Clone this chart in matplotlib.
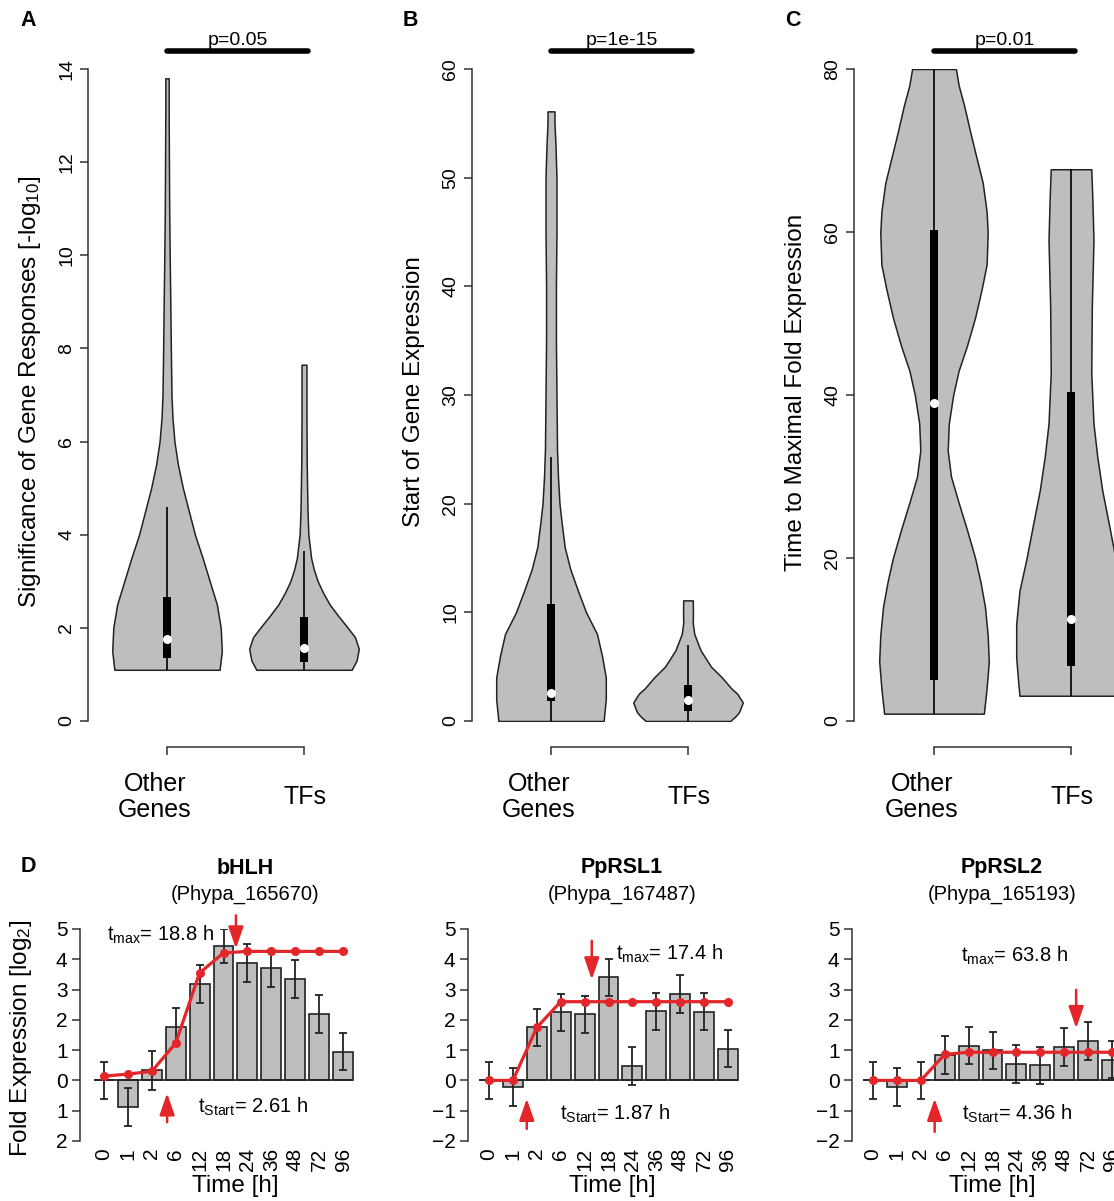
import numpy as np
import matplotlib
matplotlib.use("Agg")
import matplotlib.pyplot as plt
from matplotlib.patches import Rectangle

plt.rcParams['font.family'] = ['Liberation Sans', 'DejaVu Sans']
plt.rcParams['mathtext.fontset'] = 'custom'
plt.rcParams['mathtext.rm'] = 'Liberation Sans'
plt.rcParams['mathtext.it'] = 'Liberation Sans:italic'
plt.rcParams['mathtext.bf'] = 'Liberation Sans:bold'

# ---------------- data: violins (top row) ----------------
groups = ["Other\nGenes", "TFs"]

# A: significance of gene responses
A_other_y = [1.1, 1.5, 2.0, 2.5, 3.0, 3.5, 4.0, 4.5, 5.0, 5.5, 6.0, 6.5, 7.0, 8.0, 9.0, 10.0, 11.0, 12.0, 13.0, 13.8]
A_other_d = [0.96, 1.0, 0.98, 0.91, 0.78, 0.65, 0.51, 0.40, 0.29, 0.20, 0.136, 0.10, 0.082, 0.07, 0.06, 0.049, 0.04, 0.035, 0.031, 0.031]
A_tfs_y = [1.1, 1.3, 1.55, 1.8, 2.0, 2.25, 2.5, 2.75, 3.0, 3.25, 3.5, 4.0, 4.5, 5.5, 6.5, 7.65]
A_tfs_d = [0.87, 0.96, 1.0, 0.93, 0.80, 0.63, 0.47, 0.35, 0.25, 0.18, 0.13, 0.08, 0.064, 0.05, 0.045, 0.045]
# box stats: q1, median, q3, whisker low, whisker high
A_other_box = [1.36, 1.76, 2.66, 1.1, 4.6]
A_tfs_box = [1.27, 1.56, 2.24, 1.1, 3.66]

# B: start of gene expression
B_other_y = [0, 2, 4, 6, 8, 10, 12, 14, 16, 18, 20, 22.5, 25, 30, 35, 40, 45, 50, 53, 55, 56.1]
B_other_d = [0.96, 1.0, 1.0, 0.93, 0.84, 0.64, 0.49, 0.35, 0.25, 0.2, 0.155, 0.127, 0.11, 0.1, 0.09, 0.09, 0.1, 0.1, 0.082, 0.064, 0.064]
B_tfs_y = [0, 0.4, 0.8, 1.7, 2.5, 3.0, 4.0, 5.0, 6.5, 8.0, 9.0, 10.0, 11.1]
B_tfs_d = [0.77, 0.86, 0.93, 1.0, 0.90, 0.79, 0.62, 0.42, 0.23, 0.115, 0.087, 0.09, 0.087]
B_other_box = [1.8, 2.6, 10.8, 0.0, 24.3]
B_tfs_box = [0.9, 1.9, 3.3, 0.0, 7.0]

# C: time to maximal fold expression
C_other_y = [0.9, 4, 7.3, 10.5, 14, 17, 20, 23.5, 27, 30, 33.2, 36.5, 40, 43, 46, 49.5, 53, 56, 59.9, 62.5, 66, 69, 72, 75.5, 78, 80]
C_other_d = [0.91, 0.96, 1.0, 0.98, 0.93, 0.85, 0.75, 0.6, 0.44, 0.31, 0.25, 0.27, 0.35, 0.45, 0.6, 0.75, 0.87, 0.96, 0.98, 0.96, 0.89, 0.78, 0.67, 0.55, 0.45, 0.4]
C_tfs_y = [3.1, 4.5, 7.8, 11.9, 16, 20, 24.2, 28.3, 32.4, 36.5, 42.7, 50.8, 59, 64, 67.7]
C_tfs_d = [0.94, 0.96, 1.0, 1.0, 0.94, 0.81, 0.69, 0.57, 0.48, 0.41, 0.37, 0.38, 0.41, 0.39, 0.37]
C_other_box = [5.0, 39.0, 60.3, 0.9, 80.0]
C_tfs_box = [6.8, 12.5, 40.4, 3.1, 67.7]

pvalues = ["p=0.05", "p=1e-15", "p=0.01"]
ylabels_top = ["Significance of Gene Responses [-log$_{10}$]", "Start of Gene Expression",
               "Time to Maximal Fold Expression"]
yticks_top = [[0, 2, 4, 6, 8, 10, 12, 14], [0, 10, 20, 30, 40, 50, 60], [0, 20, 40, 60, 80]]

# ---------------- data: bar charts (bottom row) ----------------
times = ["0", "1", "2", "6", "12", "18", "24", "36", "48", "72", "96"]

bhlh_mean = [0.0, -0.88, 0.33, 1.78, 3.18, 4.45, 3.88, 3.70, 3.35, 2.20, 0.95]
bhlh_err = [0.62, 0.63, 0.63, 0.62, 0.62, 0.56, 0.62, 0.62, 0.62, 0.62, 0.62]
bhlh_fit = [0.14, 0.21, 0.30, 1.23, 3.55, 4.21, 4.26, 4.26, 4.26, 4.26, 4.26]

rsl1_mean = [0.0, -0.22, 1.75, 2.25, 2.18, 3.40, 0.47, 2.28, 2.85, 2.27, 1.05]
rsl1_err = [0.62, 0.63, 0.62, 0.62, 0.62, 0.62, 0.63, 0.62, 0.62, 0.62, 0.62]
rsl1_fit = [0.0, 0.0, 1.75, 2.60, 2.60, 2.60, 2.60, 2.60, 2.60, 2.60, 2.60]

rsl2_mean = [0.0, -0.22, 0.0, 0.84, 1.15, 0.99, 0.55, 0.50, 1.10, 1.31, 0.69]
rsl2_err = [0.62, 0.62, 0.62, 0.62, 0.62, 0.62, 0.62, 0.62, 0.62, 0.62, 0.62]
rsl2_fit = [0.0, 0.0, 0.0, 0.86, 0.93, 0.93, 0.93, 0.93, 0.93, 0.93, 0.93]

gene_names = ["bHLH", "PpRSL1", "PpRSL2"]
gene_ids = ["(Phypa_165670)", "(Phypa_167487)", "(Phypa_165193)"]
t_max = ["18.8", "17.4", "63.8"]
t_start = ["2.61", "1.87", "4.36"]
ytick_vals_d = [-2, -1, 0, 1, 2, 3, 4, 5]
ytick_labels_d1 = ["2", "1", "0", "1", "2", "3", "4", "5"]
ytick_labels_d = ["\u22122", "\u22121", "0", "1", "2", "3", "4", "5"]

# ---------------- styling ----------------
W, H = 1114, 1201
GRAY = "#BEBEBE"
RED = "#E3262A"
AXC = "#333333"
fig = plt.figure(figsize=(W / 100, H / 100), dpi=100)


def ftext(xp, yp, s, **kw):
    fig.text(xp / W, 1 - yp / H, s, **kw)


def violin(ax, c, y, d, box, scale=0.40, bw=0.03):
    y = np.asarray(y)
    hw = np.asarray(d) * scale
    ax.fill_betweenx(y, c - hw, c + hw, facecolor=GRAY, edgecolor="#222222", lw=1.1, zorder=2)
    q1, med, q3, wlo, whi = box
    ax.plot([c, c], [wlo, whi], color="k", lw=1.2, zorder=3, solid_capstyle="butt")
    ax.add_patch(Rectangle((c - bw, q1), 2 * bw, q3 - q1, fc="k", ec="none", zorder=4))
    ax.plot([c], [med], "o", ms=6.5, mfc="white", mec="none", zorder=5)


top_specs = [
    # spine px, cat1 px, right px, letter px
    (88, 167, 380, 28, A_other_y, A_other_d, A_other_box, A_tfs_y, A_tfs_d, A_tfs_box),
    (472, 551, 765, 410, B_other_y, B_other_d, B_other_box, B_tfs_y, B_tfs_d, B_tfs_box),
    (854, 934, 1250, 793, C_other_y, C_other_d, C_other_box, C_tfs_y, C_tfs_d, C_tfs_box),
]
letters = ["A", "B", "C"]
ppu = 137.0
ytop, ybot = 69, 721
for k, spec in enumerate(top_specs):
    x0, c1, x1, lx, oy, od, ob, ty, td, tb = spec
    ax = fig.add_axes([x0 / W, 1 - ybot / H, (x1 - x0) / W, (ybot - ytop) / H])
    ax.set_xlim(1 - (c1 - x0) / ppu, 1 + (x1 - c1) / ppu)
    ymax = yticks_top[k][-1]
    ax.set_ylim(0, ymax)
    violin(ax, 1, oy, od, ob)
    violin(ax, 2, ty, td, tb)
    for s in ["top", "right"]:
        ax.spines[s].set_visible(False)
    ax.spines["left"].set_color(AXC)
    ax.spines["left"].set_linewidth(1.1)
    ax.spines["bottom"].set_color(AXC)
    ax.spines["bottom"].set_linewidth(1.1)
    ax.spines["bottom"].set_position(("outward", 19))
    ax.spines["bottom"].set_bounds(1, 2)
    ax.set_xticks([1, 2])
    ax.set_xticklabels(["", ""])
    ax.tick_params(axis="x", length=6, width=1.1, color=AXC)
    ax.set_yticks(yticks_top[k])
    ax.tick_params(axis="y", length=6, width=1.1, color=AXC, labelsize=14, pad=3, labelrotation=90)
    for lab in ax.get_yticklabels():
        lab.set_va("center")
    tr = ax.get_xaxis_transform()
    ax.plot([1.0, 2.03], [1.0276, 1.0276], transform=tr, color="k", lw=4, solid_capstyle="round", clip_on=False)
    ax.text(1.52, 1.037, pvalues[k], transform=tr, ha="center", va="baseline", fontsize=14)
    ax.text(1 - 12 / ppu, -0.1166, groups[0], transform=tr, ha="center", va="center", fontsize=18, linespacing=1.15)
    ax.text(2.01, -0.1166, groups[1], transform=tr, ha="center", va="center", fontsize=18)
    ftext(x0 - 58, 392, ylabels_top[k], rotation=90, ha="center", va="center", fontsize=17.5)
    ftext(lx, 20, letters[k], fontsize=15.5, fontweight="bold", ha="center", va="center")

# ---------------- bottom row ----------------
bottom_specs = [
    (80, 104, bhlh_mean, bhlh_err, bhlh_fit, ytick_labels_d1,
     (5.52, 5.45, 4.35), (2.64, -1.38, -0.42), (2.38, 4.8), (6.23, -0.86), 245),
    (468, 489, rsl1_mean, rsl1_err, rsl1_fit, ytick_labels_d,
     (4.30, 4.61, 3.33), (1.58, -1.60, -0.60), (7.57, 4.19), (5.27, -1.10), 622),
    (852, 873, rsl2_mean, rsl2_err, rsl2_fit, ytick_labels_d,
     (8.50, 2.99, 1.72), (2.58, -1.70, -0.60), (5.92, 4.12), (6.03, -1.10), 1002),
]
dppu = 23.9 / 1.2
dtop, dbot = 929, 1141
xpos = 0.7 + 1.2 * np.arange(len(times))
for k, spec in enumerate(bottom_specs):
    x0, b0, mean, err, fit, ylabs, amax, astart, tmx, tst, cx = spec
    wpx = 300
    ax = fig.add_axes([x0 / W, 1 - dbot / H, wpx / W, (dbot - dtop) / H])
    left = 0.7 - (b0 - x0) / dppu
    ax.set_xlim(left, left + wpx / dppu)
    ax.set_ylim(-2, 5)
    ax.bar(xpos, mean, width=1.0, color=GRAY, edgecolor="#222222", lw=1.2, zorder=2)
    ax.hlines(0, xpos[0] - 0.5, xpos[-1] + 0.5, color="#222222", lw=1.2, zorder=2)
    ax.errorbar(xpos, mean, yerr=err, fmt="none", ecolor="#222222", elinewidth=1.3, capsize=3, capthick=1.3, zorder=3)
    ax.plot(xpos, fit, color=RED, lw=2.3, marker="o", ms=5.5, mec=RED, mfc=RED, zorder=5)
    for (ai, tail, tip) in (amax, astart):
        xa = 0.7 + 1.2 * ai
        ax.annotate("", xy=(xa, tip), xytext=(xa, tail), annotation_clip=False,
                    arrowprops=dict(arrowstyle="-|>,head_length=1.1,head_width=0.38", color=RED, lw=1.8,
                                    shrinkA=0, shrinkB=0, mutation_scale=12), zorder=6)
    ax.text(0.7 + 1.2 * tmx[0], tmx[1], r"$\mathregular{t_{max}}$= " + t_max[k] + " h",
            ha="center", va="center", fontsize=14.5, clip_on=False)
    ax.text(0.7 + 1.2 * tst[0], tst[1], r"$\mathregular{t_{Start}}$= " + t_start[k] + " h",
            ha="center", va="center", fontsize=14.5, clip_on=False)
    for s in ["top", "right", "bottom"]:
        ax.spines[s].set_visible(False)
    ax.spines["left"].set_color(AXC)
    ax.spines["left"].set_linewidth(1.1)
    ax.set_yticks(ytick_vals_d)
    ax.set_yticklabels(ylabs)
    ax.tick_params(axis="y", length=6, width=1.1, color=AXC, labelsize=15, pad=3)
    ax.set_xticks(xpos)
    ax.set_xticklabels(times, rotation=90)
    ax.tick_params(axis="x", length=0, labelsize=15, pad=5)
    ftext(cx, 868, gene_names[k], fontsize=15.5, fontweight="bold", ha="center", va="center")
    ftext(cx, 894, gene_ids[k], fontsize=14.5, ha="center", va="center")
    ftext(cx - 10, 1186, "Time [h]", fontsize=17.5, ha="center", va="center")

ftext(21, 1038, "Fold Expression [log$_2$]", rotation=90, fontsize=17.5, ha="center", va="center")
ftext(28, 866, "D", fontsize=15.5, fontweight="bold", ha="center", va="center")

fig.savefig("out.png", dpi=100)
